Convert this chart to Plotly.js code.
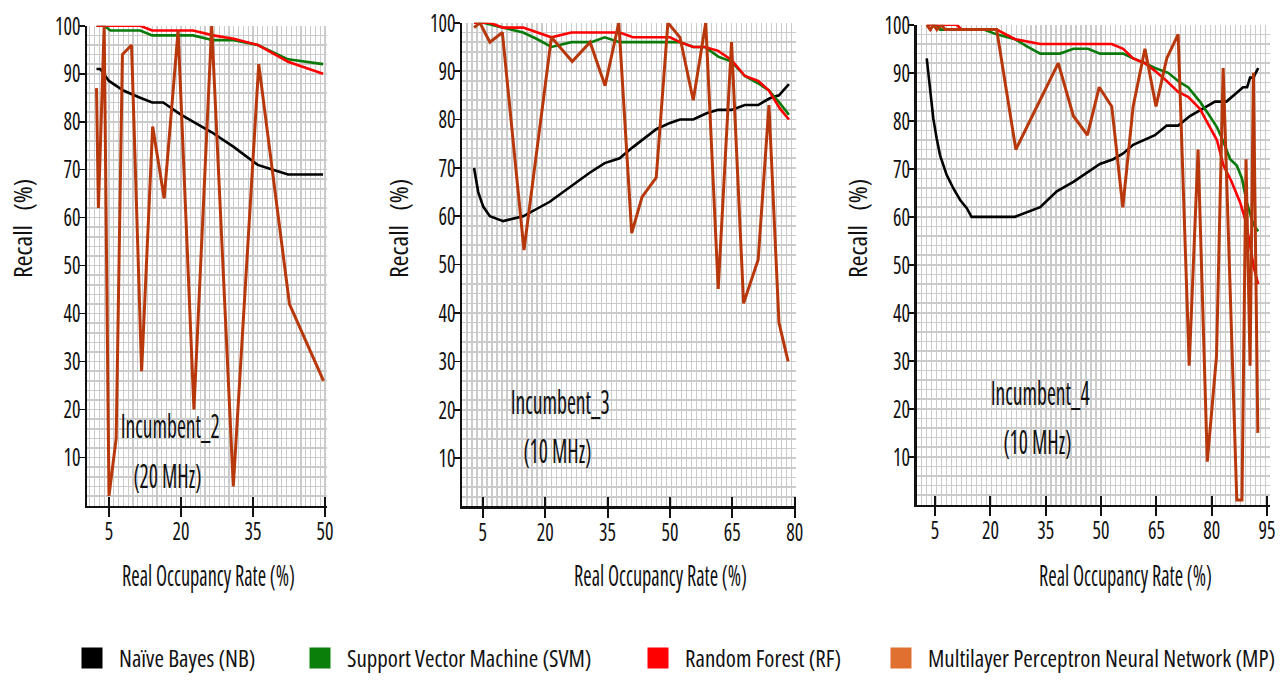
<!DOCTYPE html>
<html><head><meta charset="utf-8">
<script src="https://cdn.plot.ly/plotly-3.0.1.min.js"></script>
<style>
html,body{margin:0;padding:0;background:#fff}
svg text{font-stretch:75% !important}
</style>
</head><body>
<div id="chart" style="width:1288px;height:680px"></div>
<script>
// ---------- data ----------
var seriesNames = ['Naïve Bayes (NB)', 'Support Vector Machine (SVM)', 'Random Forest (RF)', 'Multilayer Perceptron Neural Network (MP)'];
var panelNames = ['Incumbent_2', 'Incumbent_3', 'Incumbent_4'];
var panelBands = ['(20 MHz)', '(10 MHz)', '(10 MHz)'];
var xTitle = 'Real Occupancy Rate (%)';
var yTitle = 'Recall\u00a0\u00a0\u00a0(%)';
var xTicks1 = [5, 20, 35, 50];
var xTicks2 = [5, 20, 35, 50, 65, 80];
var xTicks3 = [5, 20, 35, 50, 65, 80, 95];
var yTicks = [10, 20, 30, 40, 50, 60, 70, 80, 90, 100];

// Incumbent_2 (20 MHz)
var nb2_x = [2.4, 3.2, 5, 8, 11.5, 14, 16.3, 19.8, 22.5, 26.4, 30.9, 36, 38.5, 42.3, 49.6];
var nb2_y = [91, 91, 88.5, 86.5, 85, 84, 84, 81.6, 80, 77.8, 74.8, 71, 70.2, 69, 69];
var svm2_x = [2.4, 4, 5.3, 11.5, 14, 22.5, 26.7, 31, 36, 42.3, 49.6];
var svm2_y = [100, 100, 99, 99, 98, 98, 97, 97, 96, 93, 92];
var rf2_x = [2.4, 11.5, 14, 22.5, 26.7, 31, 36, 42.3, 49.6];
var rf2_y = [100, 100, 99, 99, 98, 97.3, 96, 92.5, 90];
var mp2_x = [2.4, 2.8, 4, 5, 6.5, 7.8, 9.7, 11.8, 14.1, 16.5, 19.4, 22.7, 26.4, 30.9, 36.2, 42.6, 49.7];
var mp2_y = [87, 62, 100, 2, 14, 94, 96, 28, 79, 64, 99, 20, 100, 4, 92, 42, 26];

// Incumbent_3 (10 MHz)
var nb3_x = [2.9, 3.9, 5.1, 6.7, 9.9, 14.7, 21.1, 25.9, 30.7, 34.3, 37.9, 41.1, 46.7, 50, 52.4, 55.6, 58.8, 61.6, 64.8, 68, 71.2, 74, 76.2, 78.6];
var nb3_y = [70, 65, 62, 60, 59, 60, 63, 66, 69, 71, 72, 74.3, 78, 79.3, 80, 80, 81.3, 82, 82, 83, 83, 84.4, 85, 87.3];
var svm3_x = [2.9, 5.1, 9.9, 14.7, 17.9, 21.5, 26.3, 31.1, 34.3, 37.9, 52.4, 55.6, 58.4, 61.6, 64.8, 68, 71.2, 73.8, 76.4, 78.6];
var svm3_y = [100, 100, 99, 98, 96.7, 95, 96, 96, 97, 96, 96, 95, 95, 93, 92, 89, 87.5, 86, 83.4, 81];
var rf3_x = [2.9, 6.7, 9.9, 14.7, 21.5, 26.3, 37.9, 41.1, 50, 52.4, 55.6, 58.4, 61.6, 64.8, 68, 71.2, 73.8, 76.4, 78.6];
var rf3_y = [100, 100, 99, 99, 97, 98, 98, 97, 97, 96, 95, 95, 94.2, 92.3, 89, 88, 86, 82.3, 80];
var mp3_x = [2.9, 4.3, 6.7, 9.7, 14.9, 21.5, 26.5, 30.8, 34.4, 37.7, 40.8, 43.3, 46.7, 49.5, 52.4, 55.6, 58.6, 61.6, 64.8, 67.7, 71.2, 73.8, 76.2, 78.4];
var mp3_y = [99, 100, 96, 98, 53, 97, 92, 96, 87, 100, 56.5, 64, 68, 100, 97, 84, 100, 45, 96, 42, 51, 83, 38, 30];

// Incumbent_4 (10 MHz)
var nb4_x = [2.75, 3.64, 4.54, 5.45, 6.36, 8.17, 9.97, 11.8, 13.6, 14.9, 26.7, 33.5, 38, 42.5, 49.7, 53.3, 56, 58.7, 64.6, 67.8, 70.9, 74.1, 77.7, 80.9, 84, 87.2, 88.5, 89.6, 90.4, 91.3, 92.6];
var nb4_y = [93, 87.3, 80.4, 76.3, 72.8, 68.7, 65.9, 63.5, 61.8, 60, 60, 62, 65.3, 67.3, 71, 72, 73.2, 75, 77, 79, 79, 81, 82.5, 84, 84, 86, 87, 87, 89, 89, 91];
var svm4_x = [2.75, 5.5, 6.4, 18.2, 21.7, 26.7, 29.9, 33.5, 38.9, 42.5, 46.5, 49.7, 56, 58.7, 61.9, 64.6, 68.2, 71.4, 73.6, 76.8, 79.1, 81.4, 83.2, 85, 86.8, 88.2, 89.5, 91.3, 92.6];
var svm4_y = [100, 100, 99, 99, 98, 97, 95.5, 94, 94, 95, 95, 94, 94, 93, 92, 91, 90, 88, 87, 84, 81.4, 78.7, 75.6, 72, 70.7, 68, 63, 58.4, 57];
var rf4_x = [2.75, 10.9, 12.2, 21.7, 26.7, 33.5, 52.9, 56, 58.7, 61.9, 64.6, 67.8, 70.9, 73.6, 76.8, 78.6, 81.4, 83.2, 85.4, 87.7, 89, 90.2, 91.4, 92.6];
var rf4_y = [100, 100, 99, 99, 97, 96, 96, 95, 93, 92, 90.4, 88.3, 86, 85, 82.5, 80, 76, 70.7, 67.3, 63, 59.7, 55, 49.5, 46];
var mp4_x = [2.75, 3.7, 4.6, 5.5, 6.8, 7.7, 21.7, 26.9, 38.4, 42.5, 46.3, 49.5, 52.9, 55.9, 58.7, 61.9, 64.9, 67.8, 70.9, 73.9, 76.3, 78.8, 81.3, 83.1, 86.8, 88.2, 89.3, 90.4, 91.3, 92.5];
var mp4_y = [100, 99, 100, 99, 100, 99, 99, 74, 92, 81, 77, 87, 83, 62, 83, 95, 83, 93, 98, 29, 74, 9, 31, 91, 1, 1, 72, 29, 90, 15];

// ---------- styles ----------
var lineColors = ['#000000', '#0a7a0a', '#ff0000', '#b8380c'];
var legendColors = ['#000000', '#0a7f0a', '#ff0000', '#e07030'];
var lineWidths = [2.6, 2.6, 2.6, 3];

var panels = [
  {xa: 'x', ya: 'y', data: [[nb2_x, nb2_y], [svm2_x, svm2_y], [rf2_x, rf2_y], [mp2_x, mp2_y]]},
  {xa: 'x2', ya: 'y2', data: [[nb3_x, nb3_y], [svm3_x, svm3_y], [rf3_x, rf3_y], [mp3_x, mp3_y]]},
  {xa: 'x3', ya: 'y3', data: [[nb4_x, nb4_y], [svm4_x, svm4_y], [rf4_x, rf4_y], [mp4_x, mp4_y]]}
];

var traces = [];
panels.forEach(function (p) {
  p.data.forEach(function (d, i) {
    traces.push({type: 'scatter', mode: 'lines', x: d[0], y: d[1], xaxis: p.xa, yaxis: p.ya,
      line: {color: lineColors[i], width: lineWidths[i]}, showlegend: false, hoverinfo: 'skip'});
  });
});
var legendWidths = [169, 279, 184, 300];
seriesNames.forEach(function (n, i) {
  traces.push({type: 'scatter', mode: 'markers', x: [null], y: [null], name: n, xaxis: 'x', yaxis: 'y',
    marker: {symbol: 'square', size: 16, color: legendColors[i], line: {color: legendColors[i], width: 5}},
    legendwidth: legendWidths[i], showlegend: true});
});

var W = 1288, H = 680;
function px(v) { return v / W; }
function py(v) { return 1 - v / H; }

var gridCol = '#cbcbcb';
function xAxis(dom, rng, tv, mdt) {
  return {domain: dom, range: rng, tickvals: tv, ticks: 'outside', ticklen: 9, tickwidth: 2, tickcolor: '#111',
    showline: true, linecolor: '#111', linewidth: 2.5, zeroline: false, showgrid: false,
    tickfont: {family: 'Open Sans', size: 25, color: '#111'},
    minor: {dtick: mdt, tick0: 0, showgrid: true, gridcolor: gridCol, gridwidth: 1.3, ticks: ''}, fixedrange: true};
}
function xOver(base, anchor, rng, tv) {
  return {overlaying: base, anchor: anchor, range: rng, tickvals: tv, ticks: 'inside', ticklen: 9,
    tickwidth: 2, tickcolor: '#111', showticklabels: false, showline: false, showgrid: false, zeroline: false};
}
function yAxis(dom, anchor) {
  return {domain: dom, anchor: anchor, range: [0, 100], tickvals: yTicks, ticks: 'outside', ticklen: 6, tickwidth: 1.6,
    tickcolor: '#111', showline: true, linecolor: '#111', linewidth: 2.5, zeroline: false, showgrid: false,
    tickfont: {family: 'Open Sans', size: 25, color: '#111'},
    minor: {dtick: 2, tick0: 0, showgrid: true, gridcolor: gridCol, gridwidth: 1.6, ticks: ''}, fixedrange: true};
}

var r1 = [0.42, 50.42], r2 = [0, 80.3], r3 = [0, 95.8];
var layout = {
  width: W, height: H, margin: {l: 0, r: 0, t: 0, b: 0},
  paper_bgcolor: '#fff', plot_bgcolor: '#fff',
  font: {family: 'Open Sans', color: '#111'},
  showlegend: true,
  legend: {orientation: 'h', x: px(65), xanchor: 'left', y: py(664), yanchor: 'middle', itemwidth: 44,
    font: {family: 'Open Sans', size: 23, color: '#111'}, itemsizing: 'trace', bgcolor: 'rgba(0,0,0,0)'},
  xaxis: Object.assign(xAxis([px(87), px(327)], r1, xTicks1, 1), {anchor: 'y'}),
  xaxis2: Object.assign(xAxis([px(462), px(796)], r2, xTicks2, 1.2), {anchor: 'y2'}),
  xaxis3: Object.assign(xAxis([px(916.6), px(1270)], r3, xTicks3, 1.35), {anchor: 'y3'}),
  xaxis4: xOver('x', 'y', r1, xTicks1),
  xaxis5: xOver('x2', 'y2', r2, xTicks2),
  xaxis6: xOver('x3', 'y3', r3, xTicks3),
  yaxis: yAxis([1 - 510 / H, 1 - 26 / H], 'x'),
  yaxis2: yAxis([1 - 511 / H, 1 - 23 / H], 'x2'),
  yaxis3: yAxis([1 - 509.4 / H, 1 - 25 / H], 'x3'),
  annotations: []
};

var xTitlePos = [208, 660, 1125];
var yTitlePos = [22, 398, 857];
var namePos = [[170, 429], [560, 405], [1040, 396]];
var bandPos = [[167, 480], [557, 455], [1037, 445]];
function ann(text, x, y, size, extra) {
  return Object.assign({text: text, xref: 'paper', yref: 'paper', x: px(x), y: py(y), xanchor: 'center', yanchor: 'middle',
    showarrow: false, font: {family: 'Open Sans', size: size, color: '#111'}}, extra || {});
}
for (var i = 0; i < 3; i++) {
  layout.annotations.push(ann(xTitle, xTitlePos[i], 580, 29));
  layout.annotations.push(ann(yTitle, yTitlePos[i], 231, 26, {textangle: -90}));
  layout.annotations.push(ann(panelNames[i], namePos[i][0], namePos[i][1], 32));
  layout.annotations.push(ann(panelBands[i], bandPos[i][0], bandPos[i][1], 32));
}
['x4', 'x5', 'x6'].forEach(function (xa, i) {
  traces.push({type: 'scatter', mode: 'lines', x: [null], y: [null], xaxis: xa, yaxis: ['y', 'y2', 'y3'][i], showlegend: false, hoverinfo: 'skip'});
});

function squish() {
  function apply(el, f) {
    var len = el.getComputedTextLength();
    if (len > 0) { el.setAttribute('textLength', (len * f).toFixed(1)); el.setAttribute('lengthAdjust', 'spacingAndGlyphs'); }
  }
  document.querySelectorAll('#chart g[class^="y"][class$="tick"] > text').forEach(function (t) { apply(t, 0.8); t.setAttribute('dx', 7); });
  document.querySelectorAll('#chart g[class^="x"][class$="tick"] > text').forEach(function (t) { apply(t, 0.8); t.setAttribute('dy', -7); });
  document.querySelectorAll('#chart .annotation-text').forEach(function (t) {
    var s = t.textContent;
    if (s.indexOf('Recall') === 0) return;
    if (s.indexOf('Real') === 0) apply(t, 0.7); else apply(t, 0.675);
  });
  document.querySelectorAll('#chart .legend [clip-path]').forEach(function (e) { e.removeAttribute('clip-path'); });
}

Plotly.newPlot('chart', traces, layout, {displayModeBar: false, staticPlot: true}).then(squish);
</script>
</body></html>
